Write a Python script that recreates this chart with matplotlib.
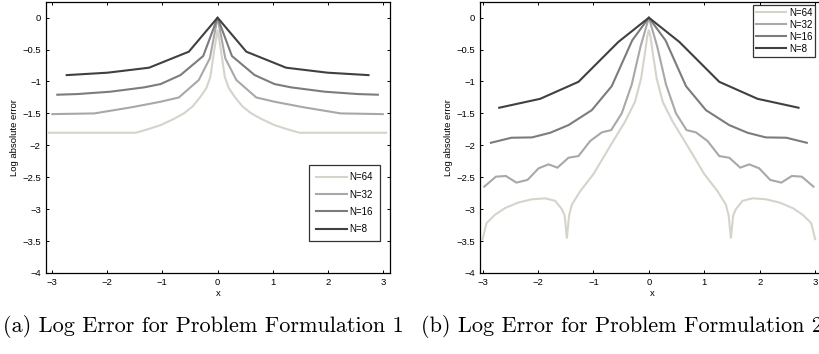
import matplotlib
matplotlib.use("Agg")
import matplotlib.pyplot as plt

# ---------------- data: Problem Formulation 1 ----------------
a_x8 = [-2.73, -1.99, -1.24, -0.52, 0.0, 0.52, 1.24, 1.99, 2.73]
a_y8 = [-0.90, -0.862, -0.784, -0.533, 0.0, -0.533, -0.784, -0.862, -0.90]

a_x16 = [-2.90, -2.54, -1.94, -1.33, -1.03, -0.67, -0.26, 0.0,
         0.26, 0.67, 1.03, 1.33, 1.94, 2.54, 2.90]
a_y16 = [-1.207, -1.197, -1.16, -1.092, -1.04, -0.899, -0.601, 0.0,
         -0.601, -0.899, -1.04, -1.092, -1.16, -1.197, -1.207]

a_x32 = [-2.99, -2.23, -1.57, -1.03, -0.70, -0.34, -0.14, 0.0,
         0.14, 0.34, 0.70, 1.03, 1.57, 2.23, 2.99]
a_y32 = [-1.511, -1.50, -1.406, -1.317, -1.25, -0.977, -0.637, 0.0,
         -0.637, -0.977, -1.25, -1.317, -1.406, -1.50, -1.511]

a_x64 = [-3.05, -1.48, -1.25, -1.03, -0.80, -0.61, -0.45, -0.31, -0.20, -0.13, -0.06, 0.0,
         0.06, 0.13, 0.20, 0.31, 0.45, 0.61, 0.80, 1.03, 1.25, 1.48, 3.05]
a_y64 = [-1.803, -1.803, -1.745, -1.683, -1.59, -1.50, -1.39, -1.239, -1.10, -0.925, -0.507, -0.193,
         -0.507, -0.925, -1.10, -1.239, -1.39, -1.50, -1.59, -1.683, -1.745, -1.803, -1.803]

# ---------------- data: Problem Formulation 2 ----------------
b_x8 = [-2.70, -1.96, -1.27, -0.55, 0.0, 0.55, 1.27, 1.96, 2.70]
b_y8 = [-1.411, -1.271, -1.005, -0.38, 0.0, -0.38, -1.005, -1.271, -1.411]

b_x16 = [-2.85, -2.48, -2.11, -1.78, -1.45, -1.03, -0.67, -0.30, 0.0,
         0.30, 0.67, 1.03, 1.45, 1.78, 2.11, 2.48, 2.85]
b_y16 = [-1.96, -1.881, -1.876, -1.803, -1.683, -1.449, -1.073, -0.355, 0.0,
         -0.355, -1.073, -1.449, -1.683, -1.803, -1.876, -1.881, -1.96]

b_x32 = [-2.97, -2.76, -2.58, -2.39, -2.19, -1.99, -1.81, -1.65, -1.45, -1.27, -1.06, -0.85,
         -0.68, -0.49, -0.31, -0.15, 0.0,
         0.15, 0.31, 0.49, 0.68, 0.85, 1.06, 1.27, 1.45, 1.65, 1.81, 1.99, 2.19, 2.39, 2.58,
         2.76, 2.97]
b_y32 = [-2.647, -2.491, -2.48, -2.584, -2.542, -2.36, -2.298, -2.35, -2.194, -2.168, -1.933,
         -1.797, -1.761, -1.50, -1.05, -0.45, 0.0,
         -0.45, -1.05, -1.50, -1.761, -1.797, -1.933, -2.168, -2.194, -2.35, -2.298, -2.36,
         -2.542, -2.584, -2.48, -2.491, -2.647]

b_x64 = [-3.0, -2.93, -2.78, -2.60, -2.36, -2.11, -1.87, -1.69, -1.57, -1.52, -1.48, -1.44,
         -1.39, -1.24, -1.0, -0.67, -0.43, -0.25, -0.14, -0.07, -0.03, 0.0,
         0.03, 0.07, 0.14, 0.25, 0.43, 0.67, 1.0, 1.24, 1.39, 1.44, 1.48, 1.52, 1.57, 1.69,
         1.87, 2.11, 2.36, 2.60, 2.78, 2.93, 3.0]
b_y64 = [-3.47, -3.22, -3.09, -2.985, -2.897, -2.845, -2.83, -2.87, -3.0, -3.1, -3.46, -3.1,
         -2.93, -2.72, -2.45, -1.97, -1.63, -1.318, -0.95, -0.55, -0.30, -0.19,
         -0.30, -0.55, -0.95, -1.318, -1.63, -1.97, -2.45, -2.72, -2.93, -3.1, -3.46, -3.1,
         -3.0, -2.87, -2.83, -2.845, -2.897, -2.985, -3.09, -3.22, -3.47]

labels = ["N=64", "N=32", "N=16", "N=8"]
colors = ["#d6d3cb", "#a8a8a8", "#7c7c7c", "#404040"]
xticks = [-3, -2, -1, 0, 1, 2, 3]
yticks = [0, -0.5, -1, -1.5, -2, -2.5, -3, -3.5, -4]
ytick_labels = ["0", "\u22120.5", "\u22121", "\u22121.5", "\u22122", "\u22122.5", "\u22123", "\u22123.5", "\u22124"]
xtick_labels = ["\u22123", "\u22122", "\u22121", "0", "1", "2", "3"]
captions = ["(a) Log Error for Problem Formulation 1", "(b) Log Error for Problem Formulation 2"]

W, H = 819, 354
fig = plt.figure(figsize=(W / 100, H / 100), dpi=100)

sans = "Liberation Sans"
fs = 6.8
lfs = 7.0


def make_ax(left_px, right_px, xlim):
    top_px, bot_px = 1.7, 273.0
    ax = fig.add_axes([left_px / W, 1 - bot_px / H, (right_px - left_px) / W, (bot_px - top_px) / H])
    ax.set_xlim(*xlim)
    ax.set_ylim(-4.0, 0.25)
    ax.set_xticks(xticks)
    ax.set_xticklabels(xtick_labels, fontfamily=sans, fontsize=fs)
    ax.set_yticks(yticks)
    ax.set_yticklabels(ytick_labels, fontfamily=sans, fontsize=fs)
    ax.tick_params(direction="in", top=True, right=True, length=2.3, width=0.7, pad=3.5)
    for s in ax.spines.values():
        s.set_linewidth(0.9)
    ax.set_xlabel("x", fontfamily=sans, fontsize=fs, labelpad=1.5)
    ax.set_ylabel("Log absolute error", fontfamily=sans, fontsize=fs, labelpad=2.5)
    return ax


ax1 = make_ax(45.7, 390.0, (-3.11, 3.12))
series_a = [(a_x64, a_y64), (a_x32, a_y32), (a_x16, a_y16), (a_x8, a_y8)]
for (xs, ys), c, lab in zip(series_a, colors, labels):
    ax1.plot(xs, ys, color=c, lw=1.5, label=lab, solid_joinstyle="miter")
leg1 = ax1.legend(loc="upper left", bbox_to_anchor=(0.765, 0.398), borderaxespad=0,
                  prop={"family": sans, "size": lfs}, handlelength=3.1, handletextpad=0.3,
                  labelspacing=0.75, borderpad=0.75, fancybox=False, frameon=True)
leg1.get_frame().set_edgecolor("black")
leg1.get_frame().set_linewidth(0.9)

ax2 = make_ax(480.0, 824.0, (-3.047, 3.16))
series_b = [(b_x64, b_y64), (b_x32, b_y32), (b_x16, b_y16), (b_x8, b_y8)]
for (xs, ys), c, lab in zip(series_b, colors, labels):
    ax2.plot(xs, ys, color=c, lw=1.5, label=lab, solid_joinstyle="miter")
leg2 = ax2.legend(loc="upper left", bbox_to_anchor=(0.793, 0.988), borderaxespad=0,
                  prop={"family": sans, "size": lfs}, handlelength=3.1, handletextpad=0.3,
                  labelspacing=0.2, borderpad=0.3, fancybox=False, frameon=True)
leg2.get_frame().set_edgecolor("black")
leg2.get_frame().set_linewidth(0.9)

fig.text(3 / W, 1 - 326 / H, captions[0], fontfamily="cmr10", fontsize=16, va="center", ha="left")
fig.text(421 / W, 1 - 326 / H, captions[1], fontfamily="cmr10", fontsize=16, va="center", ha="left")

fig.savefig("out.png", dpi=100)
